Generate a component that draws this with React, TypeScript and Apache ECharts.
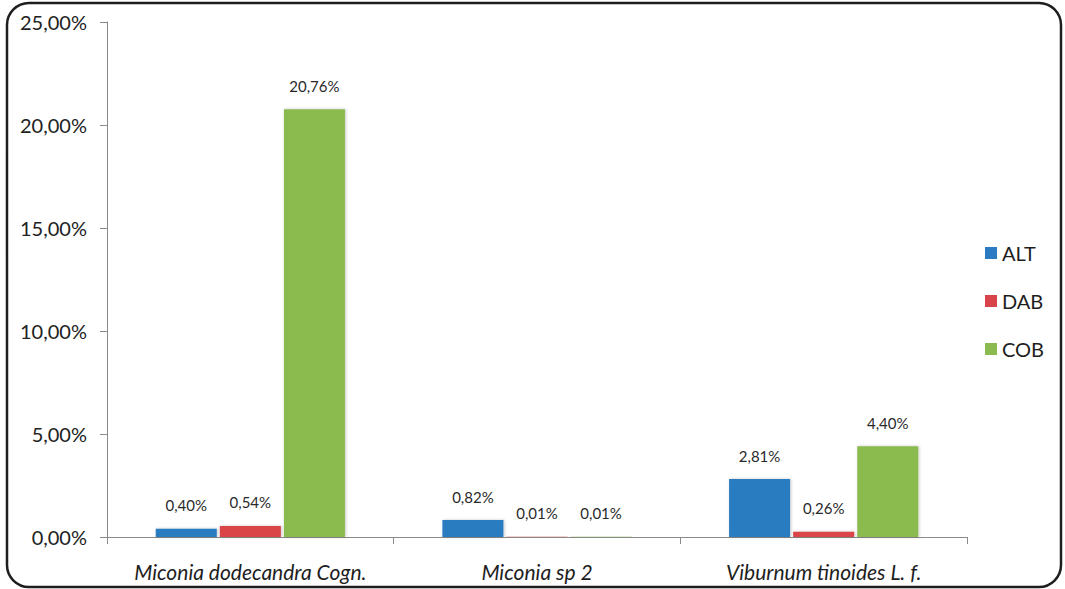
import React, { useEffect, useRef } from "react";
import * as echarts from "echarts";

const categories = ["Miconia dodecandra Cogn.", "Miconia sp 2", "Viburnum tinoides L. f."];
const seriesNames = ["ALT", "DAB", "COB"];
const altValues = [0.4, 0.82, 2.81];
const dabValues = [0.54, 0.01, 0.26];
const cobValues = [20.76, 0.01, 4.4];
const seriesColors = ["#2a7bc1", "#d9444a", "#8bba4f"];

const FONT = "Lato, 'Open Sans', sans-serif";
const pct = (v: number) => v.toFixed(2).replace(".", ",") + "%";

export default function App() {
  const ref = useRef<HTMLDivElement>(null);

  useEffect(() => {
    if (!ref.current) return;
    const chart = echarts.init(ref.current, undefined, { renderer: "svg" });
    const values = [altValues, dabValues, cobValues];

    chart.setOption({
      animation: false,
      backgroundColor: "#ffffff",
      textStyle: { fontFamily: FONT },
      graphic: [
        {
          type: "rect",
          shape: { x: 7, y: 3, width: 1054, height: 584, r: 22 },
          style: { fill: "none", stroke: "#1e1e1e", lineWidth: 2.5 },
          silent: true,
        },
      ],
      legend: {
        orient: "vertical",
        left: 980,
        top: 238,
        itemWidth: 12,
        itemHeight: 12,
        itemGap: 28,
        icon: "rect",
        data: seriesNames,
        textStyle: { fontSize: 20, color: "#1e1e1e", fontFamily: FONT },
      },
      grid: { left: 107, right: 98, top: 22, bottom: 52 },
      xAxis: {
        type: "category",
        data: categories,
        axisLine: { lineStyle: { color: "#8a8a8a", width: 1 } },
        axisTick: { show: true, length: 7, lineStyle: { color: "#8a8a8a" } },
        axisLabel: {
          interval: 0,
          fontSize: 21,
          fontStyle: "italic",
          color: "#1e1e1e",
          margin: 24,
          fontFamily: FONT,
        },
      },
      yAxis: {
        type: "value",
        min: 0,
        max: 25,
        interval: 5,
        splitLine: { show: false },
        axisLine: { show: true, lineStyle: { color: "#8a8a8a", width: 1 } },
        axisTick: { show: true, length: 7, lineStyle: { color: "#8a8a8a" } },
        axisLabel: {
          fontSize: 20,
          color: "#222",
          margin: 20,
          formatter: (v: number) => pct(v),
          fontFamily: FONT,
        },
      },
      series: seriesNames.map((name, i) => ({
        name,
        type: "bar",
        data: values[i],
        barGap: "5%",
        barCategoryGap: "34%",
        itemStyle: {
          color: seriesColors[i],
          shadowColor: "rgba(0,0,0,0.22)",
          shadowBlur: 3,
          shadowOffsetX: 1,
          shadowOffsetY: 0,
        },
        label: {
          show: true,
          position: "top",
          distance: 16,
          fontSize: 15,
          color: "#2a2a2a",
          fontFamily: FONT,
          formatter: (p: any) => pct(p.value),
        },
      })),
    });

    return () => chart.dispose();
  }, []);

  return (
    <div
      ref={ref}
      style={{ position: "fixed", left: 0, top: 0, width: 1065, height: 589 }}
    />
  );
}
